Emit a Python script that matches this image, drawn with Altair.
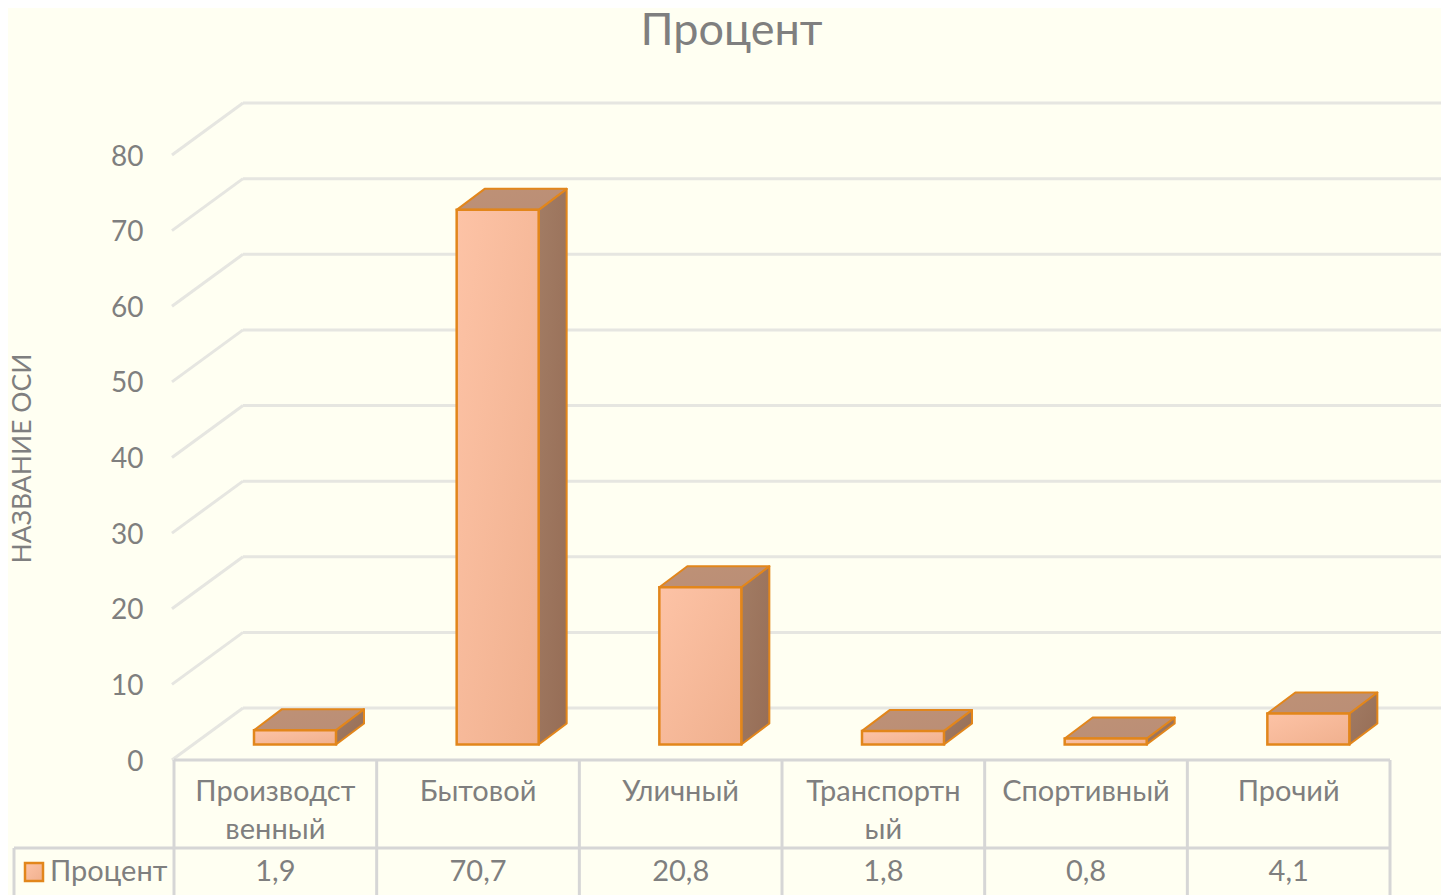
import altair as alt
import pandas as pd

cat_line1 = ["Производст", "Бытовой", "Уличный", "Транспортн", "Спортивный", "Прочий"]
cat_line2 = ["венный", "", "", "ый", "", ""]
values = [1.9, 70.7, 20.8, 1.8, 0.8, 4.1]
value_labels = ["1,9", "70,7", "20,8", "1,8", "0,8", "4,1"]
ticks = [0, 10, 20, 30, 40, 50, 60, 70, 80]
series = "Процент"

# layout, in scale units: one x unit is one table column, one y unit is one percent
PX_X = 202.67
PX_Y = 7.5625
PLOT_W, PLOT_H = 1267, 657
X_MAX = PLOT_W / PX_X
Y_MAX = PLOT_H / PX_Y
WALL_DX, WALL_DY = 69 / PX_X, 52 / PX_Y
BAR_L, BAR_R = 80 / PX_X, 162 / PX_X
BAR_BASE = 15.5 / PX_Y
BAR_DX, BAR_DY = 28 / PX_X, 21 / PX_Y
ROW1, ROW2, ROW3 = -32 / PX_Y, -70 / PX_Y, -112 / PX_Y
TABLE_MID, TABLE_END = -88 / PX_Y, -135 / PX_Y
N = len(values)

FONT = "Lato"
TEXT = "#7F7F7F"
GRID = "#E6E6E1"
TABLE = "#D6D6D6"
ORANGE = "#E2861B"

xs = alt.Scale(domain=[0, X_MAX], nice=False, zero=False)
ys = alt.Scale(domain=[0, Y_MAX], nice=False, zero=False)
X = alt.X("x:Q", scale=xs, axis=None)
Y = alt.Y("y:Q", scale=ys, title="НАЗВАНИЕ ОСИ",
          axis=alt.Axis(values=ticks, grid=False, domain=False, ticks=False, labelPadding=31,
                        labelOffset=2,
                        labelFont=FONT, labelFontSize=28, labelColor=TEXT, labelFontWeight="normal",
                        titleFont=FONT, titleFontSize=26.5, titleColor=TEXT, titleFontWeight="normal",
                        titleX=-138, titleY=355, titleAngle=270))

def grad(a, b):
    return alt.LinearGradient(gradient="linear", x1=0, y1=0, x2=1, y2=1,
                              stops=[alt.GradientStop(offset=0, color=a),
                                     alt.GradientStop(offset=1, color=b)])

# ---- walls
wall = pd.DataFrame({"y": [t + WALL_DY for t in ticks]})
wall["x"] = WALL_DX
wall["x2"] = X_MAX
wall_layer = alt.Chart(wall).mark_rule(color=GRID, strokeWidth=3).encode(x=X, x2="x2:Q", y=Y)

diag = pd.DataFrame({"x": [-0.01] * len(ticks), "x2": [WALL_DX] * len(ticks),
                     "y": ticks, "y2": [t + WALL_DY for t in ticks]})
diag_layer = alt.Chart(diag).mark_rule(color=GRID, strokeWidth=3).encode(x=X, x2="x2:Q", y=Y, y2="y2:Q")

# ---- bars
front_rows, side_rows, top_rows = [], [], []
for i, v in enumerate(values):
    x0, x1 = i + BAR_L, i + BAR_R
    low, high = BAR_BASE, BAR_BASE + v
    front_rows.append({"x": x0, "x2": x1, "y": low, "y2": high})
    side_rows += [{"c": i, "x": x1, "y": low, "y2": high},
                  {"c": i, "x": x1 + BAR_DX, "y": low + BAR_DY, "y2": high + BAR_DY}]
    top_rows += [{"c": i, "x": x0, "y": high, "y2": high},
                 {"c": i, "x": x0 + BAR_DX, "y": high, "y2": high + BAR_DY},
                 {"c": i, "x": x1, "y": high, "y2": high + BAR_DY},
                 {"c": i, "x": x1 + BAR_DX, "y": high + BAR_DY, "y2": high + BAR_DY}]

side_layer = alt.Chart(pd.DataFrame(side_rows)).mark_area(
    fill=grad("#A27C64", "#966D56"), stroke=ORANGE, strokeWidth=2, strokeJoin="round", interpolate="linear"
).encode(x=X, y=Y, y2="y2:Q", detail="c:N")
top_layer = alt.Chart(pd.DataFrame(top_rows)).mark_area(
    fill=grad("#BE9176", "#BA8E76"), stroke=ORANGE, strokeWidth=2, strokeJoin="round", interpolate="linear"
).encode(x=X, y=Y, y2="y2:Q", detail="c:N")
front_layer = alt.Chart(pd.DataFrame(front_rows)).mark_rect(
    fill=grad("#FDC3A6", "#F0B08E"), stroke=ORANGE, strokeWidth=2.5
).encode(x=X, x2="x2:Q", y=Y, y2="y2:Q")

# ---- data table
h_lines = pd.DataFrame({"x": [0, -160 / PX_X], "x2": [N, N], "y": [0, TABLE_MID]})
h_layer = alt.Chart(h_lines).mark_rule(color=TABLE, strokeWidth=3).encode(x=X, x2="x2:Q", y=Y)
v_lines = pd.DataFrame({"x": list(range(N + 1)) + [-160 / PX_X],
                        "y": [0] * (N + 1) + [TABLE_MID],
                        "y2": [TABLE_END] * (N + 2)})
v_layer = alt.Chart(v_lines).mark_rule(color=TABLE, strokeWidth=3).encode(x=X, y=Y, y2="y2:Q")

rows = pd.DataFrame({
    "x": [i + 0.5 for i in range(N)] * 3,
    "y": [ROW1] * N + [ROW2] * N + [ROW3] * N,
    "t": cat_line1 + cat_line2 + value_labels,
})
rows = rows[rows["t"] != ""]
text_layer = alt.Chart(rows).mark_text(
    font=FONT, fontSize=29, color=TEXT, baseline="middle", align="center"
).encode(x=X, y=Y, text="t:N")

key = pd.DataFrame({"x": [-149 / PX_X], "x2": [-131 / PX_X],
                    "y": [-103 / PX_Y], "y2": [-121 / PX_Y]})
key_layer = alt.Chart(key).mark_rect(
    fill=grad("#FDC3A6", "#F0B08E"), stroke=ORANGE, strokeWidth=2.5
).encode(x=X, x2="x2:Q", y=Y, y2="y2:Q")
series_layer = alt.Chart(pd.DataFrame({"x": [-124 / PX_X], "y": [ROW3], "t": [series]})).mark_text(
    font=FONT, fontSize=29, color=TEXT, baseline="middle", align="left"
).encode(x=X, y=Y, text="t:N")

chart = alt.layer(
    wall_layer, diag_layer, side_layer, top_layer, front_layer,
    h_layer, v_layer, text_layer, key_layer, series_layer,
).properties(
    width=PLOT_W, height=PLOT_H,
    padding={"left": 166, "top": 95, "right": 0, "bottom": 135},
    autosize=alt.AutoSizeParams(type="none"),
    background="#FFFFF2",
    title=alt.TitleParams(series, font=FONT, fontSize=45, fontWeight="normal", color=TEXT,
                          anchor="middle", frame="group", dx=-76, offset=48),
).configure_view(stroke=None)

chart.save("out.html", embed_options={"renderer": "svg", "actions": False})
